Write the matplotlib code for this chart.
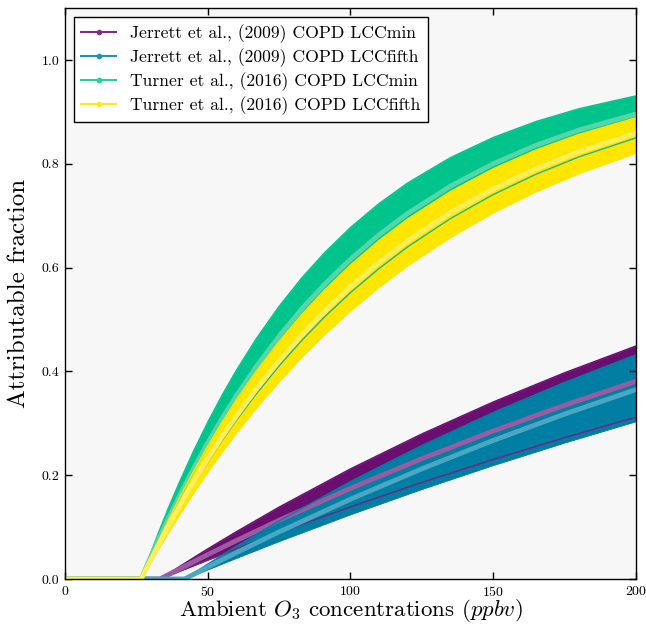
import matplotlib
matplotlib.use("Agg")
import matplotlib.pyplot as plt
from matplotlib.lines import Line2D

plt.rcParams['font.family'] = 'serif'
plt.rcParams['font.serif'] = ['cmr10', 'DejaVu Serif']
plt.rcParams['mathtext.fontset'] = 'cm'
plt.rcParams['axes.formatter.use_mathtext'] = True

# ---- data ----
labels = ["Jerrett et al., (2009) COPD LCCmin",
          "Jerrett et al., (2009) COPD LCCfifth",
          "Turner et al., (2016) COPD LCCmin",
          "Turner et al., (2016) COPD LCCfifth"]

x_jmin = [0, 33.3, 40, 50, 60, 75, 100, 125, 150, 175, 200]
jmin_up = [0, 0, 0.0237, 0.0580, 0.0910, 0.1385, 0.2122, 0.2795, 0.3411, 0.3974, 0.4490]
jmin_mid = [0, 0, 0.0191, 0.0469, 0.0739, 0.1131, 0.1746, 0.2319, 0.2851, 0.3348, 0.3810]
jmin_lo = [0, 0, 0.0149, 0.0368, 0.0581, 0.0893, 0.1390, 0.1860, 0.2303, 0.2723, 0.3120]

x_jfif = [0, 41.9, 50, 60, 75, 100, 125, 150, 175, 200]
jfif_up = [0, 0, 0.0286, 0.0627, 0.1117, 0.1877, 0.2572, 0.3208, 0.3789, 0.4320]
jfif_mid = [0, 0, 0.0230, 0.0507, 0.0907, 0.1537, 0.2123, 0.2669, 0.3177, 0.3650]
jfif_lo = [0, 0, 0.0184, 0.0406, 0.0731, 0.1247, 0.1734, 0.2195, 0.2629, 0.3040]

x_turn = [0, 26.7, 28, 30, 33, 36, 40, 45, 50, 55, 60, 67, 75, 83, 91, 100,
          110, 120, 135, 150, 165, 180, 200]
tmin_up = [0, 0, 0.0199, 0.0496, 0.0926, 0.1337, 0.1855, 0.2460, 0.3020, 0.3539,
           0.4018, 0.4630, 0.5254, 0.5805, 0.6292, 0.6773, 0.7234, 0.7630, 0.8120,
           0.8508, 0.8816, 0.9061, 0.9310]
tmin_mid = [0, 0, 0.0168, 0.0422, 0.0790, 0.1144, 0.1594, 0.2126, 0.2624, 0.3090,
            0.3527, 0.4092, 0.4678, 0.5206, 0.5682, 0.6161, 0.6631, 0.7043, 0.7569,
            0.8002, 0.8357, 0.8650, 0.8960]
tmin_lo = [0, 0, 0.0141, 0.0355, 0.0667, 0.0968, 0.1355, 0.1816, 0.2252, 0.2665,
           0.3056, 0.3568, 0.4107, 0.4602, 0.5054, 0.5519, 0.5983, 0.6400, 0.6945,
           0.7408, 0.7800, 0.8134, 0.8501]
tfif_up = [0, 0, 0.0163, 0.0410, 0.0768, 0.1112, 0.1552, 0.2071, 0.2558, 0.3015,
           0.3445, 0.4001, 0.4579, 0.5102, 0.5575, 0.6052, 0.6522, 0.6937, 0.7467,
           0.7906, 0.8268, 0.8568, 0.8889]
tfif_mid = [0, 0, 0.0146, 0.0366, 0.0687, 0.0998, 0.1396, 0.1868, 0.2315, 0.2737,
            0.3136, 0.3658, 0.4206, 0.4707, 0.5164, 0.5632, 0.6099, 0.6516, 0.7059,
            0.7517, 0.7905, 0.8231, 0.8589]
tfif_lo = [0, 0, 0.0128, 0.0322, 0.0606, 0.0882, 0.1237, 0.1661, 0.2066, 0.2450,
           0.2816, 0.3298, 0.3810, 0.4283, 0.4719, 0.5170, 0.5627, 0.6041, 0.6588,
           0.7061, 0.7467, 0.7818, 0.8211]

xticks = [0, 50, 100, 150, 200]
yticks = [0.0, 0.2, 0.4, 0.6, 0.8, 1.0]

fill_cols = ['#6a0e70', '#007ea3', '#00c48c', '#ffe600']
mid_cols = ['#9b5ba0', '#4aa7c2', '#55d5a8', '#ffee5a']
lo_cols = ['#7a1f82', '#007ea3', '#13b3a0', '#ffe600']
leg_cols = ['#802d87', '#2191b4', '#28cda0', '#ffe61e']

series = [(x_jmin, jmin_lo, jmin_mid, jmin_up),
          (x_jfif, jfif_lo, jfif_mid, jfif_up),
          (x_turn, tmin_lo, tmin_mid, tmin_up),
          (x_turn, tfif_lo, tfif_mid, tfif_up)]

fig = plt.figure(figsize=(6.46, 6.27), dpi=100)
ax = fig.add_axes([0.1006, 0.0766, 0.8839, 0.9104])
ax.set_facecolor('#f7f7f7')

for i, (x, lo, mid, up) in enumerate(series):
    ax.fill_between(x, lo, up, color=fill_cols[i], linewidth=0.5, zorder=1)
for i, (x, lo, mid, up) in enumerate(series):
    ax.plot(x, up, color=fill_cols[i], lw=1, zorder=2)
    ax.plot(x, lo, color=lo_cols[i], lw=1, zorder=2)
    ax.plot(x, mid, color=mid_cols[i], lw=3.5, zorder=2)

handles = [Line2D([0], [0], color=c, lw=1.5, marker='o', markersize=3) for c in leg_cols]
leg = ax.legend(handles, labels, loc='upper left', fontsize=12.7, frameon=True,
                fancybox=False, framealpha=1, edgecolor='black',
                borderaxespad=0.5, handlelength=2.0, labelspacing=0.3,
                borderpad=0.4)
leg.get_frame().set_linewidth(1.0)

ax.set_xlim(0, 200)
ax.set_ylim(0, 1.1)
ax.set_xticks(xticks)
ax.set_yticks(yticks)
ax.set_yticklabels(['%.1f' % v for v in yticks])
ax.tick_params(direction='in', top=True, right=True, length=5, width=1,
               labelsize=10, pad=4)
for s in ax.spines.values():
    s.set_linewidth(1.0)
ax.set_xlabel(r'Ambient $O_3$ concentrations $(ppbv)$', fontsize=16.5, labelpad=-1)
ax.set_ylabel('Attributable fraction', fontsize=18, labelpad=8)

fig.savefig('out.png', dpi=100)
